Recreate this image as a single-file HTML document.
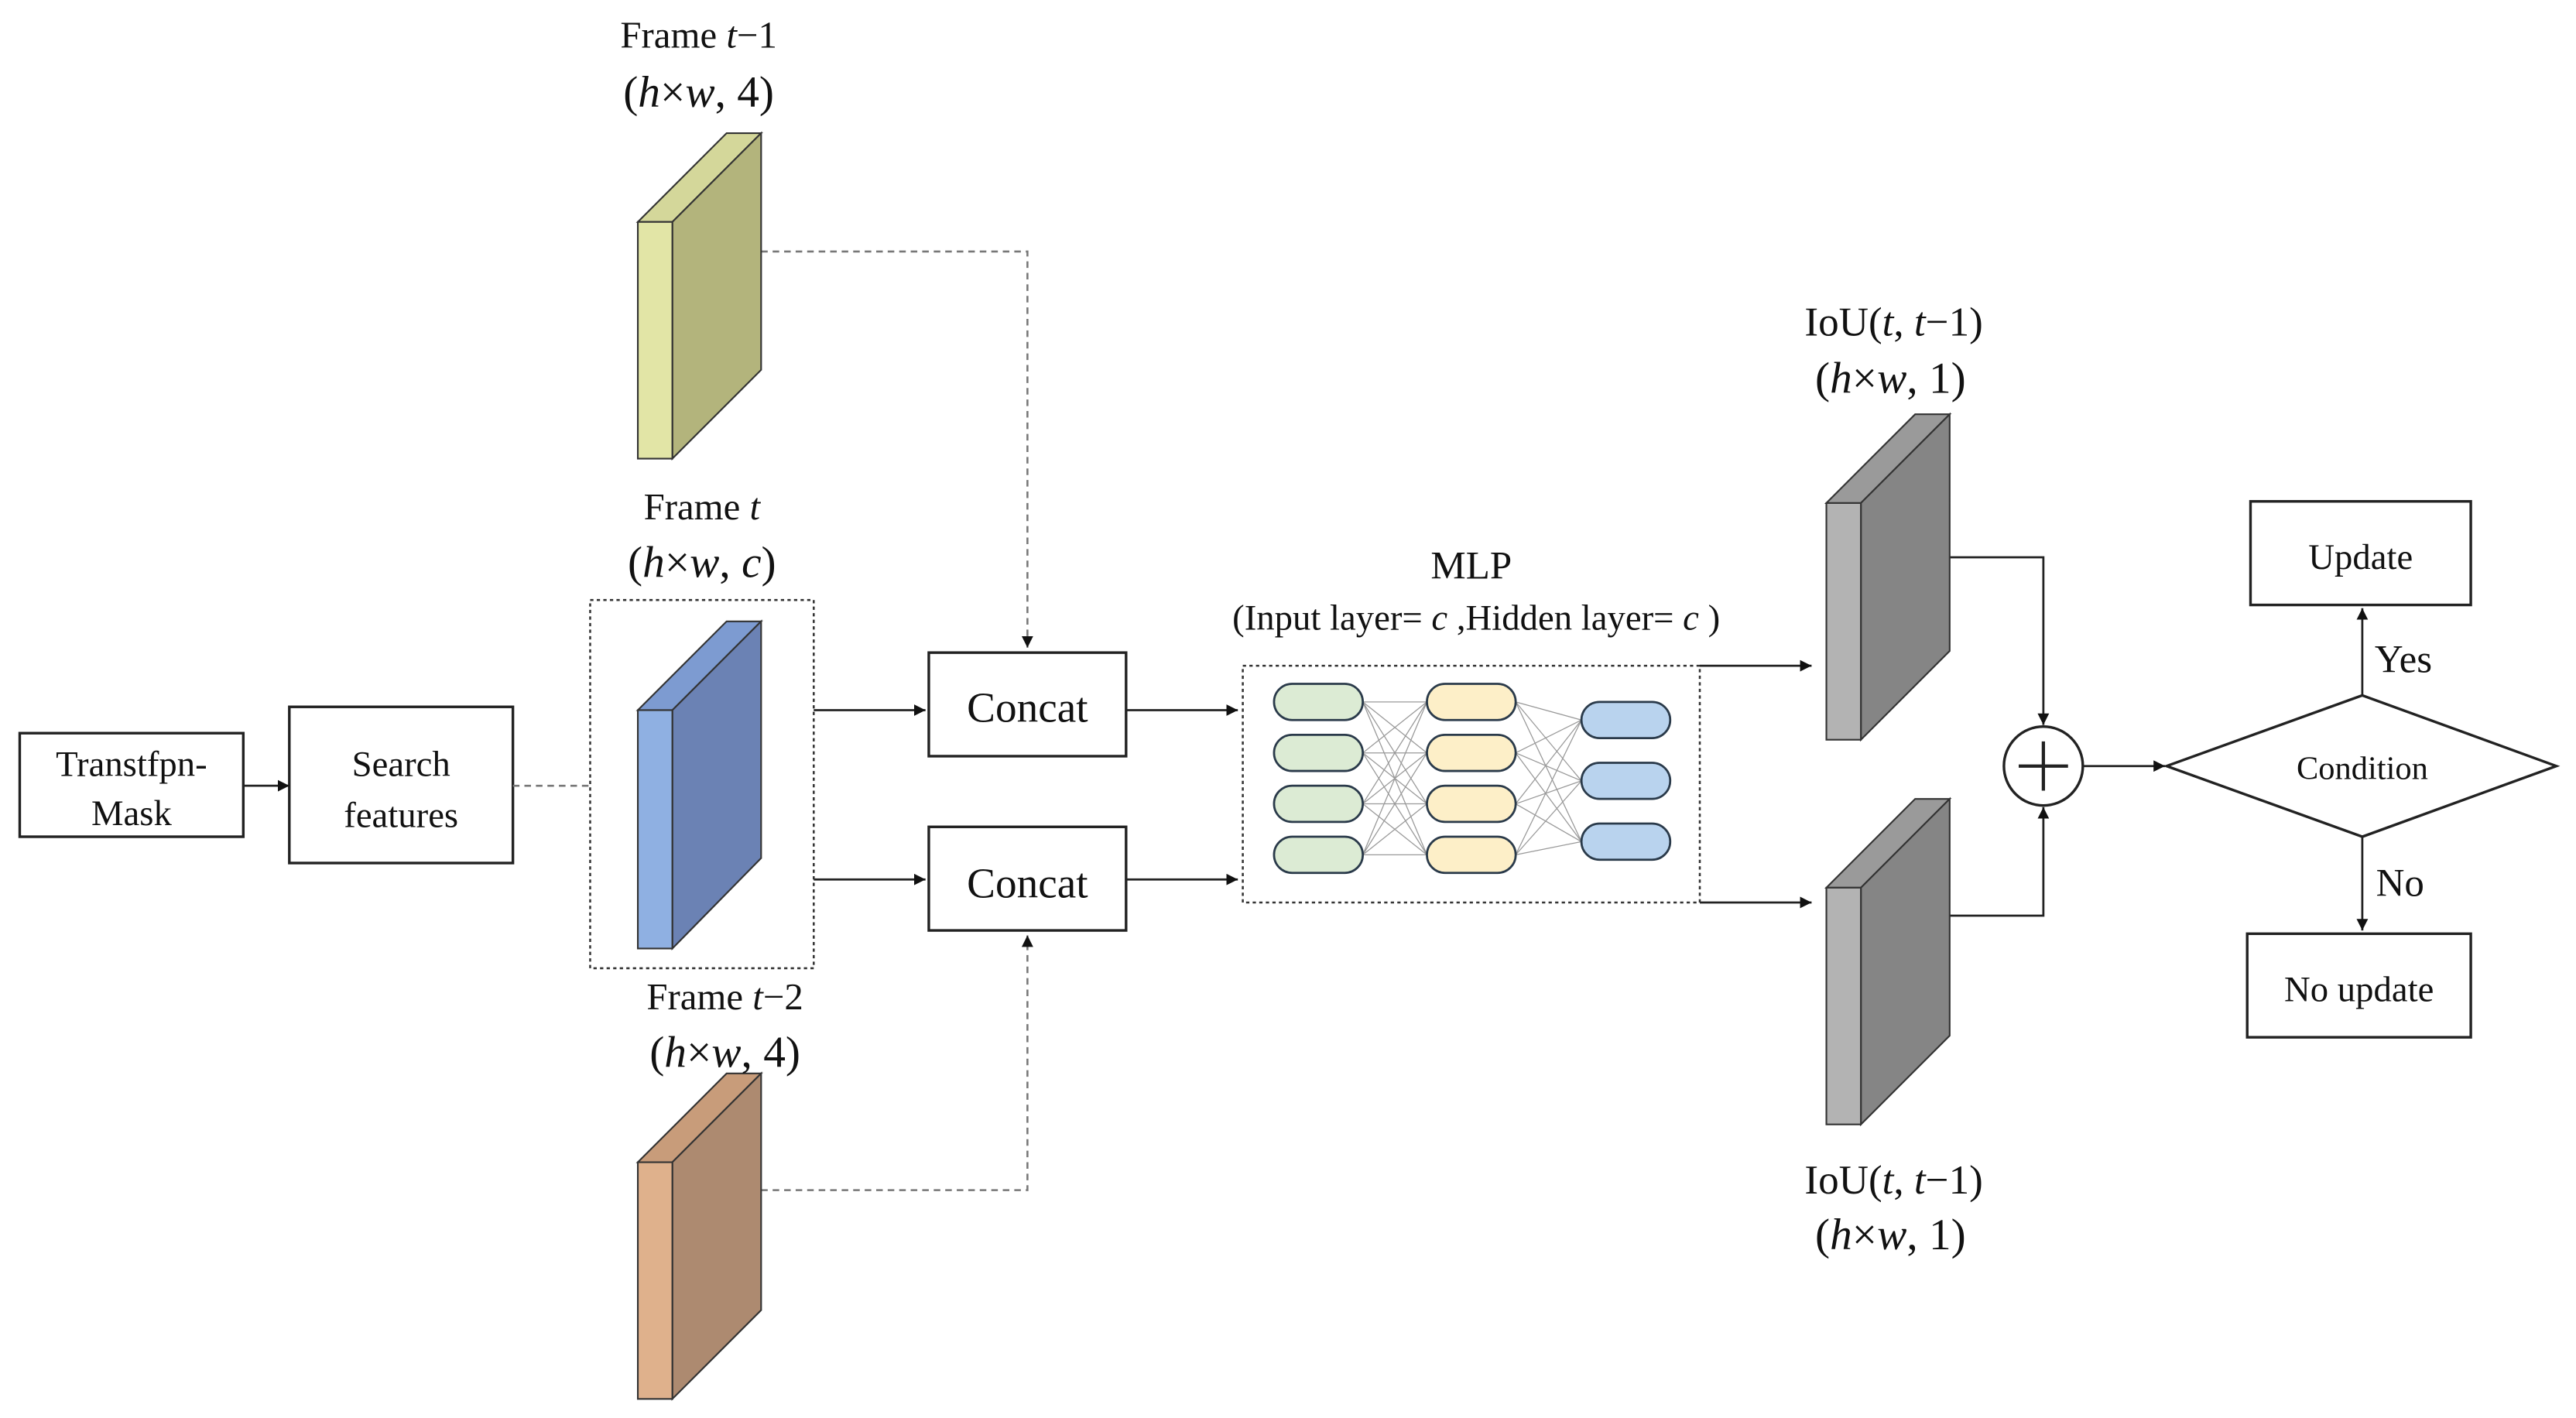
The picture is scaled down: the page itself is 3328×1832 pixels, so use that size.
<!DOCTYPE html>
<html><head><meta charset="utf-8"><style>
html,body{margin:0;padding:0;background:#fff;}
svg{display:block;}
text{font-family:"Liberation Serif",serif;fill:#111;}
</style></head><body>
<svg width="3328" height="1832" viewBox="0 0 1567 862.6" preserveAspectRatio="none" xmlns="http://www.w3.org/2000/svg">
<defs>
<marker id="a" viewBox="0 0 10 10" refX="10" refY="5" markerWidth="7" markerHeight="7" orient="auto-start-reverse" markerUnits="userSpaceOnUse"><path d="M0,0L10,5L0,10z" fill="#111"/></marker>
</defs>
<rect width="1567" height="862.6" fill="#fff"/>
<g stroke="#222" stroke-width="1.6" fill="none">
<rect x="12" y="446" width="136" height="63"/>
<rect x="176" y="430" width="136" height="95"/>
<rect x="565" y="397" width="120" height="63"/>
<rect x="565" y="503" width="120" height="63"/>
<rect x="1369" y="305" width="134" height="63"/>
<rect x="1367" y="568" width="136" height="63"/>
<polygon points="1318,466 1437,423 1555,466 1437,509"/>
<circle cx="1243" cy="466" r="24"/>
<path d="M1228,466H1258M1243,451V481" stroke-width="2"/>
</g>
<g stroke="#222" stroke-width="1.3" fill="none" marker-end="url(#a)">
<path d="M148,478H176"/>
<path d="M495,432H563"/><path d="M495,535H563"/>
<path d="M685,432H753"/><path d="M685,535H753"/>
<path d="M1034,405H1102"/><path d="M1034,549H1102"/>
<path d="M1186,339H1243V441"/><path d="M1186,557H1243V491"/>
<path d="M1267,466H1317"/>
<path d="M1437,423V370"/><path d="M1437,509V566"/>
</g>
<g stroke="#777" stroke-width="1.2" fill="none" stroke-dasharray="4,3">
<path d="M312,478H359"/>
<path d="M463,153H625V394" marker-end="url(#a)"/>
<path d="M463,724H625V569" marker-end="url(#a)"/>
</g>
<g stroke="#333" stroke-width="1.2" fill="none" stroke-dasharray="2,2">
<rect x="359" y="365" width="136" height="224"/>
<rect x="756" y="405" width="278" height="144"/>
</g>
<g stroke="#333" stroke-width="1">
<polygon points="388,135 442,81 463,81 409,135" fill="#d4d79a"/>
<polygon points="409,135 463,81 463,225 409,279" fill="#b3b47c"/>
<rect x="388" y="135" width="21" height="144" fill="#e2e5a6"/>
<polygon points="388,432 442,378 463,378 409,432" fill="#7d9bd1"/>
<polygon points="409,432 463,378 463,522 409,577" fill="#6b82b4"/>
<rect x="388" y="432" width="21" height="145" fill="#8fb0e2"/>
<polygon points="388,707 442,653 463,653 409,707" fill="#c89c7a"/>
<polygon points="409,707 463,653 463,797 409,851" fill="#ad8a70"/>
<rect x="388" y="707" width="21" height="144" fill="#dfb18c"/>
<polygon points="1111,306 1165,252 1186,252 1132,306" fill="#9a9a9a"/>
<polygon points="1132,306 1186,252 1186,396 1132,450" fill="#858585"/>
<rect x="1111" y="306" width="21" height="144" fill="#b3b3b3"/>
<polygon points="1111,540 1165,486 1186,486 1132,540" fill="#9a9a9a"/>
<polygon points="1132,540 1186,486 1186,630 1132,684" fill="#858585"/>
<rect x="1111" y="540" width="21" height="144" fill="#b3b3b3"/>
</g>
<g stroke="#999" stroke-width="0.6">
<path d="M829,427L868,427M829,427L868,458M829,427L868,489M829,427L868,520M829,458L868,427M829,458L868,458M829,458L868,489M829,458L868,520M829,489L868,427M829,489L868,458M829,489L868,489M829,489L868,520M829,520L868,427M829,520L868,458M829,520L868,489M829,520L868,520"/>
<path d="M922,427L962,438M922,427L962,475M922,427L962,512M922,458L962,438M922,458L962,475M922,458L962,512M922,489L962,438M922,489L962,475M922,489L962,512M922,520L962,438M922,520L962,475M922,520L962,512"/>
</g>
<g stroke="#2a3a4a" stroke-width="1.3">
<rect x="775" y="416" width="54" height="22" rx="11" fill="#dcebd4"/>
<rect x="775" y="447" width="54" height="22" rx="11" fill="#dcebd4"/>
<rect x="775" y="478" width="54" height="22" rx="11" fill="#dcebd4"/>
<rect x="775" y="509" width="54" height="22" rx="11" fill="#dcebd4"/>
<rect x="868" y="416" width="54" height="22" rx="11" fill="#fdefc8"/>
<rect x="868" y="447" width="54" height="22" rx="11" fill="#fdefc8"/>
<rect x="868" y="478" width="54" height="22" rx="11" fill="#fdefc8"/>
<rect x="868" y="509" width="54" height="22" rx="11" fill="#fdefc8"/>
<rect x="962" y="427" width="54" height="22" rx="11" fill="#b9d3ee"/>
<rect x="962" y="464" width="54" height="22" rx="11" fill="#b9d3ee"/>
<rect x="962" y="501" width="54" height="22" rx="11" fill="#b9d3ee"/>
</g>
<g font-size="22" text-anchor="middle">
<text x="80" y="472">Transtfpn-</text>
<text x="80" y="502">Mask</text>
<text x="244" y="472">Search</text>
<text x="244" y="503">features</text>
<text x="625" y="439" font-size="26">Concat</text>
<text x="625" y="546" font-size="26">Concat</text>
<text x="1436" y="346">Update</text>
<text x="1435" y="609">No update</text>
<text x="1437" y="474" font-size="20">Condition</text>
<text x="1462" y="409" font-size="24">Yes</text>
<text x="1460" y="545" font-size="24">No</text>
<text x="425" y="29" font-size="23">Frame <tspan font-style="italic">t</tspan>−1</text>
<text x="425" y="65" font-size="27">(<tspan font-style="italic">h</tspan>×<tspan font-style="italic">w</tspan>, 4)</text>
<text x="427" y="316" font-size="23">Frame <tspan font-style="italic">t</tspan></text>
<text x="427" y="351" font-size="27">(<tspan font-style="italic">h</tspan>×<tspan font-style="italic">w</tspan>, <tspan font-style="italic">c</tspan>)</text>
<text x="441" y="614" font-size="23">Frame <tspan font-style="italic">t</tspan>−2</text>
<text x="441" y="649" font-size="27">(<tspan font-style="italic">h</tspan>×<tspan font-style="italic">w</tspan>, 4)</text>
<text x="895" y="352" font-size="24">MLP</text>
<text x="898" y="383">(Input layer= <tspan font-style="italic">c</tspan> ,Hidden layer= <tspan font-style="italic">c</tspan> )</text>
<text x="1152" y="204" font-size="25">IoU(<tspan font-style="italic">t</tspan>, <tspan font-style="italic">t</tspan>−1)</text>
<text x="1150" y="239" font-size="27">(<tspan font-style="italic">h</tspan>×<tspan font-style="italic">w</tspan>, 1)</text>
<text x="1152" y="726" font-size="25">IoU(<tspan font-style="italic">t</tspan>, <tspan font-style="italic">t</tspan>−1)</text>
<text x="1150" y="760" font-size="27">(<tspan font-style="italic">h</tspan>×<tspan font-style="italic">w</tspan>, 1)</text>
</g>
</svg>
</body></html>
